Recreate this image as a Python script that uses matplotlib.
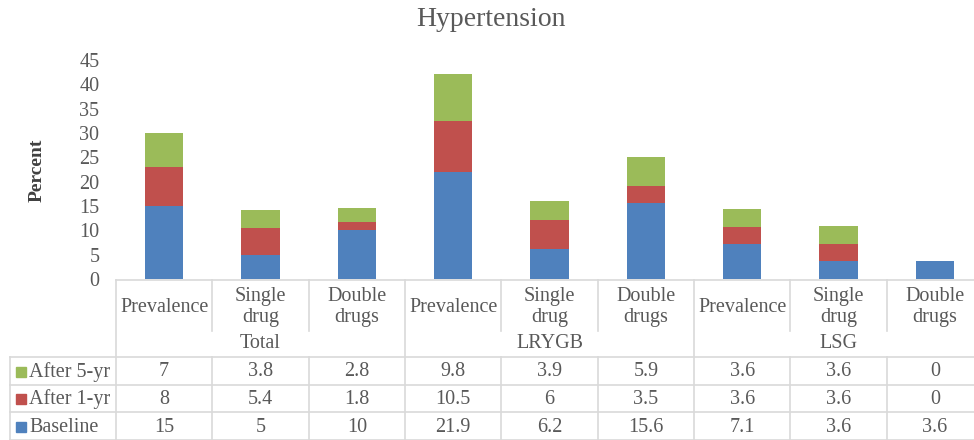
import matplotlib.pyplot as plt
import numpy as np

plt.rcParams['font.family'] = ['Liberation Serif', 'DejaVu Serif']

categories = ["Prevalence", "Single\ndrug", "Double\ndrugs"] * 3
groups = ["Total", "LRYGB", "LSG"]
series_names = ["After 5-yr", "After 1-yr", "Baseline"]
baseline = [15, 5, 10, 21.9, 6.2, 15.6, 7.1, 3.6, 3.6]
after_1yr = [8, 5.4, 1.8, 10.5, 6, 3.5, 3.6, 3.6, 0]
after_5yr = [7, 3.8, 2.8, 9.8, 3.9, 5.9, 3.6, 3.6, 0]
yticks = list(range(0, 46, 5))

colors = {"Baseline": "#4F81BD", "After 1-yr": "#C0504D", "After 5-yr": "#9BBB59"}
text_c = "#595959"
grid_c = "#D9D9D9"
fs = 14.5

W, H = 974, 440
fig = plt.figure(figsize=(W / 100, H / 100), dpi=100)

# plot area (pixel layout); last column runs past the right edge like the source
left, right, top, bottom = 116, 983, 60, 279
ax = fig.add_axes([left / W, 1 - bottom / H, (right - left) / W, (bottom - top) / H])
x = np.arange(len(categories))
bw = 0.40
ax.bar(x, baseline, bw, color=colors["Baseline"])
b2 = np.array(baseline)
ax.bar(x, after_1yr, bw, bottom=b2, color=colors["After 1-yr"])
b3 = b2 + np.array(after_1yr)
ax.bar(x, after_5yr, bw, bottom=b3, color=colors["After 5-yr"])
ax.set_xlim(-0.5, len(categories) - 0.5)
ax.set_ylim(0, 45)
ax.set_yticks(yticks)
ax.tick_params(axis='y', length=0, labelsize=fs, labelcolor=text_c, pad=12)
ax.set_xticks([])
for s in ["top", "right", "left", "bottom"]:
    ax.spines[s].set_visible(False)
ax.patch.set_alpha(0)

# overlay in pixel coordinates for title, label and the data table
ov = fig.add_axes([0, 0, 1, 1])
ov.set_xlim(0, W)
ov.set_ylim(H, 0)
ov.axis("off")
ov.patch.set_alpha(0)

ov.text(491, 20, "Hypertension", ha="center", va="center", fontsize=20, color=text_c)
ov.text(37, 170, "Percent", ha="center", va="center", rotation=90,
        fontsize=14, fontweight="bold", color="#404040")

cw = (right - left) / len(categories)
cols = [left + i * cw for i in range(len(categories) + 1)]
lw = 1.2
row_y = [357, 385, 412, 440]

# axis line at bottom of the plot
ov.plot([left, right], [280, 280], color=grid_c, lw=lw)
# verticals
for i, cx in enumerate(cols):
    if i % 3 == 0:
        ov.plot([cx, cx], [280, 440], color=grid_c, lw=lw)
    else:
        ov.plot([cx, cx], [280, 331], color=grid_c, lw=lw)
        ov.plot([cx, cx], [357, 440], color=grid_c, lw=lw)
ov.plot([10, 10], [357, 440], color=grid_c, lw=lw)
for yy in row_y:
    ov.plot([10, right], [yy, yy], color=grid_c, lw=lw)

# category labels
for i, c in enumerate(categories):
    ov.text(cols[i] + cw / 2, 307, c, ha="center", va="center", fontsize=fs,
            color=text_c, linespacing=1.1)
for g, name in enumerate(groups):
    ov.text(cols[3 * g] + 1.5 * cw, 344, name, ha="center", va="center",
            fontsize=fs, color=text_c)

# table rows
rows = {"After 5-yr": after_5yr, "After 1-yr": after_1yr, "Baseline": baseline}
for r, name in enumerate(series_names):
    yc = (row_y[r] + row_y[r + 1]) / 2 + 1
    ov.add_patch(plt.Rectangle((16, yc - 5), 10, 10, color=colors[name]))
    ov.text(29, yc, name, ha="left", va="center", fontsize=fs, color=text_c)
    for i, v in enumerate(rows[name]):
        ov.text(cols[i] + cw / 2, yc, f"{v:g}", ha="center", va="center",
                fontsize=fs, color=text_c)

fig.savefig("out.png", dpi=100)
